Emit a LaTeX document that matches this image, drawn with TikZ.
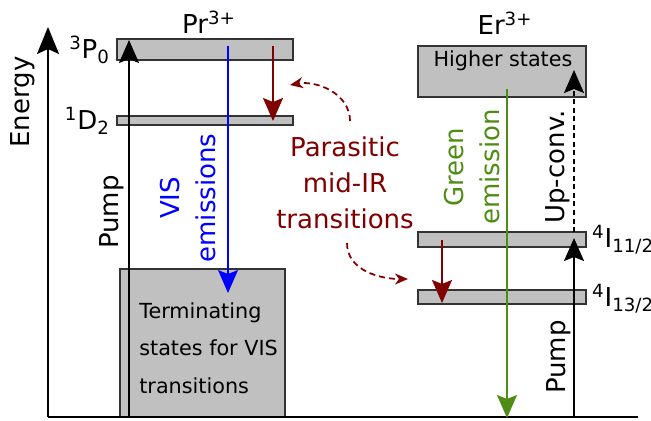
\documentclass[tikz,border=0pt]{standalone}
\usepackage{fontspec}
\setmainfont{DejaVu Sans}
\usetikzlibrary{arrows.meta}
\definecolor{visblue}{RGB}{0,0,255}
\definecolor{irred}{RGB}{128,0,0}
\definecolor{ergreen}{RGB}{78,140,20}
\definecolor{lvlgray}{RGB}{192,192,192}

\begin{document}
\begin{tikzpicture}[
  x=0.2mm, y=-0.2mm,
  font=\fontsize{14.8}{20.5}\selectfont,
  bigtip/.style={-{Stealth[length=4.6mm,width=4mm,inset=0.8mm]}},
  lvl/.style={draw=black!80, fill=lvlgray, line width=0.3mm, inner sep=0pt},
  boxtxt/.style={font=\fontsize{11.8}{21.3}\selectfont, align=left, inner sep=0pt},
  axis/.style={line width=0.4mm, -{Stealth[length=5.4mm,width=4.4mm,inset=1mm]}},
  pump/.style={bigtip, line width=0.35mm},
  vis/.style={bigtip, line width=0.3mm, draw=visblue, fill=visblue},
  midir/.style={bigtip, line width=0.35mm, draw=irred, fill=irred},
  green/.style={bigtip, line width=0.3mm, draw=ergreen, fill=ergreen},
  upconv/.style={bigtip, line width=0.3mm, dash pattern=on 1mm off 0.7mm},
  para/.style={-{Stealth[length=2.6mm,width=2.2mm,inset=0.8mm]}, line width=0.35mm,
               draw=irred, dash pattern=on 1.2mm off 0.8mm},
  lbl/.style={inner sep=1pt}
]
\useasboundingbox (0,0) rectangle (651,421);

\coordinate (orig) at (48,417);
\coordinate (etop) at (48,27);
\coordinate (xend) at (638,417);

\node[lvl, minimum width=35.2mm, minimum height=4.2mm] (p0) at (205,49.5) {};
\node[lvl, minimum width=35.2mm, minimum height=1.8mm] (d2) at (205,120.5) {};
\node[lvl, minimum width=33mm, minimum height=29.6mm] (term) at (202.5,343) {};
\node[lvl, minimum width=33.6mm, minimum height=10.2mm] (high) at (502,71.5) {};
\node[lvl, minimum width=33.6mm, minimum height=3mm] (i11) at (502,239.5) {};
\node[lvl, minimum width=33.6mm, minimum height=2.8mm] (i13) at (502,297) {};

\node[boxtxt] (hightxt) at (503,61) {Higher states};
\node[boxtxt, anchor=west] (termtxt) at (139,348) {Terminating\\states for VIS\\transitions};

\node[lbl] (pr) at (209,22) {Pr\textsuperscript{3+}};
\node[lbl] (er) at (505,23) {Er\textsuperscript{3+}};
\node[lbl, anchor=east] (p0lbl) at (112,50) {\textsuperscript{3}P\textsubscript{0}};
\node[lbl, anchor=east] (d2lbl) at (112,121) {\textsuperscript{1}D\textsubscript{2}};
\node[lbl, anchor=west] (i11lbl) at (590,240) {\textsuperscript{4}I\textsubscript{11/2}};
\node[lbl, anchor=west] (i13lbl) at (590,299) {\textsuperscript{4}I\textsubscript{13/2}};

\node[lbl, rotate=90] (energy) at (23,102) {Energy};
\node[lbl, rotate=90] (pumppr) at (112,212) {Pump};
\node[lbl, rotate=90] (pumper) at (559,357) {Pump};
\node[lbl, rotate=90] (uplbl) at (558,167) {Up-conv.};
\node[lbl, rotate=90, align=center, text=visblue] (vislbl) at (188,198) {VIS\\emissions};
\node[lbl, rotate=90, align=center, text=ergreen] (grnlbl) at (472,167) {Green\\emission};
\node[lbl, align=center, text=irred] (par) at (345,183) {Parasitic\\mid-IR\\transitions};

\coordinate (prpump0) at (129,417); \coordinate (prpump1) at (129,40);
\coordinate (vis0) at (228,46);     \coordinate (vis1) at (228,293);
\coordinate (prir0) at (273,46);    \coordinate (prir1) at (273,121);
\coordinate (erir0) at (442,240);   \coordinate (erir1) at (442,303);
\coordinate (grn0) at (507,89);     \coordinate (grn1) at (507,418);
\coordinate (up0) at (574,232);     \coordinate (up1) at (574,70);
\coordinate (erpump0) at (574,417); \coordinate (erpump1) at (574,238);
\coordinate (par0) at (350,121);    \coordinate (par1) at (290,85);
\coordinate (par2) at (347,243);    \coordinate (par3) at (408,279);

\draw[axis] (orig) -- (etop);
\draw[line width=0.35mm] (orig) -- (xend);

\draw[pump] (prpump0) -- (prpump1);
\draw[vis] (vis0) -- (vis1);
\draw[midir] (prir0) -- (prir1);
\draw[midir] (erir0) -- (erir1);
\draw[green] (grn0) -- (grn1);
\draw[upconv] (up0) -- (up1);
\draw[pump] (erpump0) -- (erpump1);
\draw[para] (par0) to[out=90, in=10] (par1);
\draw[para] (par2) to[out=-90, in=180] (par3);
\end{tikzpicture}
\end{document}
